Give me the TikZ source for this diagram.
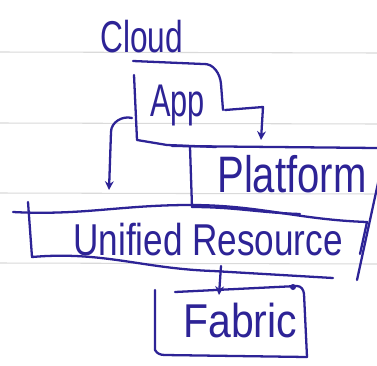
\documentclass[tikz,border=0pt]{standalone}
\usepackage{fontspec}
\setmainfont{Liberation Sans}
\usetikzlibrary{arrows.meta}
\definecolor{ink}{RGB}{45,35,150}
\definecolor{ruling}{RGB}{218,218,218}
% stretch handwriting-like words vertically
\newcommand\handword[2]{\scalebox{1}[#1]{#2}}
\begin{document}
\begin{tikzpicture}[x=0.02cm,y=-0.02cm,
  pen/.style={draw=ink,line width=1.3pt,line cap=round,line join=round},
  arr/.style={pen,-{Stealth[length=5pt,width=5pt]}},
  handtext/.style={inner sep=0pt,anchor=base west,text=ink}]
\fill[white] (0,0) rectangle (377,365);
\useasboundingbox (0,0) rectangle (377,365);
\clip (0,0) rectangle (377,365);

% ruled paper
\foreach \yy in {52,123,193,263}
  \draw[ruling,line width=0.6pt] (0,\yy) -- (377,\yy+1);

% labels
\node[handtext,font=\fontsize{18}{20}\selectfont] (cloud) at (100,52) {\handword{1.41}{Cloud}};
\node[handtext,font=\fontsize{17.5}{20}\selectfont] (app) at (150,116) {\handword{1.49}{App}};
\node[handtext,font=\fontsize{22.8}{26}\selectfont] (platform) at (217,192) {\handword{1.28}{Platform}};
\node[handtext,font=\fontsize{20}{24}\selectfont] (unified) at (73,255) {\handword{1.27}{Unified Resource}};
\node[handtext,font=\fontsize{23.3}{26}\selectfont] (fabric) at (183,337) {\handword{1.16}{Fabric}};

% App box
\draw[pen] (133,61) -- (203,64) to[out=5,in=95] (221,84) -- (223,110);
\draw[pen] (134,75) -- (137,140) -- (167,145) -- (216,147);

% Platform box
\draw[pen] (172,146) -- (377,148);
\draw[pen] (190,147) -- (192,207);
\draw[pen] (383,160) -- (357,280);

% Unified Resource box (top edge doubled where the Platform base runs along it)
\draw[pen] (13,212) to[out=-3,in=180] (190,205) to[out=0,in=178] (367,222) -- (360,254);
\draw[pen] (192,207) to[out=0,in=178] (300,214);
\draw[pen] (28,202) -- (32,257) to[out=5,in=178] (213,271) -- (333,278);

% Fabric box
\draw[pen] (175,292) -- (297,286) to[out=0,in=95] (304,294) -- (307,357);
\draw[pen] (155,290) -- (155,350) to[out=-60,in=180] (165,355) -- (307,357);
\fill[ink] (293,287) circle (3);

% connector ends
\coordinate (appE) at (225,110);
\coordinate (appW) at (132,118);
\coordinate (platN) at (261,140);
\coordinate (uniN) at (109,190);
\coordinate (uniS) at (221,266);
\coordinate (fabN) at (219,295);

% connectors
\draw[arr] (appE) -- (263,107) -- (platN);
\draw[arr] (appW) to[out=165,in=90] (111,132) -- (uniN);
\draw[arr] (uniS) -- (fabN);
\end{tikzpicture}
\end{document}
